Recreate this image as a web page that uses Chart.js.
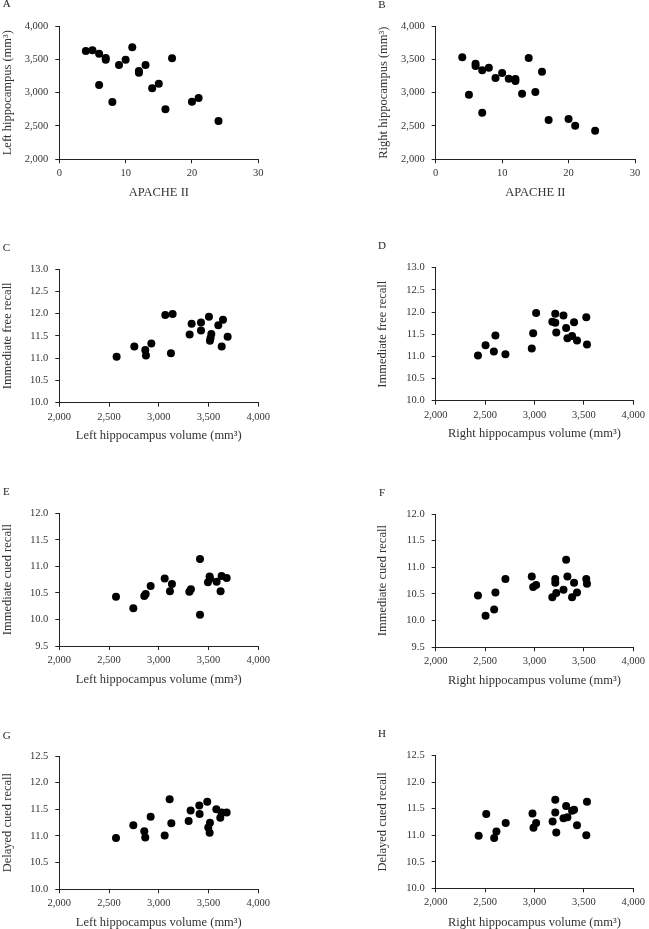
<!DOCTYPE html>
<html>
<head>
<meta charset="utf-8">
<script src="https://cdn.jsdelivr.net/npm/chart.js@4.4.1/dist/chart.umd.min.js"></script>
<style>
  body { margin: 0; background: #fff; width: 649px; height: 929px; position: relative; overflow: hidden; }
  canvas { position: absolute; }
  .lbl { position: absolute; font: 11px/11px "Liberation Serif", "Times New Roman", serif; color: #222; }
</style>
</head>
<body>
<script>
// panel A / B : APACHE II vs hippocampus volume
var apache = [4, 5, 6, 6, 7, 7, 8, 9, 10, 11, 12, 12, 13, 14, 15, 16, 17, 20, 21, 24];
var leftVolA = [3625, 3635, 3585, 3115, 3520, 3495, 2860, 3415, 3495, 3680, 3325, 3300, 3415, 3065, 3135, 2750, 3515, 2865, 2920, 2575];
var rightVolB = [3530, 2970, 3435, 3400, 3335, 2700, 3375, 3220, 3295, 3210, 3205, 3175, 2985, 3520, 3010, 3315, 2590, 2605, 2505, 2430];

// panel C / D : immediate free recall
var leftVolC = [2576, 2754, 2864, 2871, 2925, 3065, 3139, 3122, 3330, 3310, 3424, 3424, 3504, 3528, 3520, 3514, 3598, 3645, 3632, 3692];
var freeC = [11.03, 11.26, 11.18, 11.06, 11.33, 11.97, 11.99, 11.11, 11.77, 11.53, 11.80, 11.62, 11.93, 11.54, 11.45, 11.39, 11.74, 11.86, 11.26, 11.48];
var rightVolD = [2428, 2505, 2605, 2589, 2706, 2973, 2987, 3017, 3181, 3211, 3211, 3221, 3294, 3321, 3334, 3381, 3401, 3431, 3525, 3532];
var freeD = [11.02, 11.25, 11.47, 11.11, 11.05, 11.18, 11.52, 11.98, 11.78, 11.76, 11.96, 11.54, 11.92, 11.64, 11.41, 11.46, 11.77, 11.36, 11.88, 11.27];

// panel E / F : immediate cued recall
var leftVolE = [2570, 2744, 2854, 2868, 2918, 3059, 3112, 3132, 3307, 3323, 3414, 3414, 3494, 3511, 3514, 3581, 3621, 3631, 3682];
var cuedE = [10.43, 10.21, 10.44, 10.48, 10.63, 10.77, 10.53, 10.67, 10.52, 10.57, 11.14, 10.09, 10.70, 10.81, 10.77, 10.71, 10.53, 10.82, 10.78];
var rightVolF = [2428, 2505, 2592, 2605, 2706, 2973, 2987, 3017, 3181, 3211, 3211, 3221, 3294, 3321, 3334, 3381, 3401, 3431, 3525, 3532];
var cuedF = [10.47, 10.09, 10.21, 10.53, 10.78, 10.83, 10.63, 10.67, 10.44, 10.78, 10.71, 10.52, 10.58, 11.14, 10.83, 10.44, 10.71, 10.53, 10.78, 10.69];

// panel G / H : delayed cued recall
var leftVolG = [2570, 2744, 2854, 2864, 2918, 3059, 3109, 3126, 3300, 3320, 3407, 3410, 3487, 3497, 3514, 3511, 3578, 3618, 3631, 3682];
var delayG = [10.96, 11.20, 11.09, 10.97, 11.36, 11.01, 11.69, 11.24, 11.28, 11.48, 11.57, 11.41, 11.64, 11.16, 11.25, 11.06, 11.50, 11.34, 11.44, 11.44];
var rightVolH = [2435, 2512, 2592, 2615, 2709, 2980, 2990, 3017, 3184, 3211, 3211, 3221, 3294, 3321, 3334, 3381, 3401, 3431, 3532, 3525];
var delayH = [10.99, 11.40, 10.95, 11.07, 11.23, 11.41, 11.14, 11.23, 11.26, 11.67, 11.43, 11.05, 11.32, 11.55, 11.34, 11.46, 11.48, 11.19, 11.63, 11.00];

var serif = '"Liberation Serif", "Times New Roman", serif';
var fmtThousands = function (v) { return v.toLocaleString('en-US'); };
var fmtOne = function (v) { return v.toFixed(1); };

var panels = [
    { id: 'A', x: apache, y: leftVolA, xr: [0, 30, 10], yr: [2000, 4000, 500], xt: 'APACHE II', yt: 'Left hippocampus (mm³)',
      L: 0, T: 0, W: 325, H: 210, area: [59.3, 26, 258.3, 159.3], ytx: 7.3, xty: 192.7, lx: 2.7, ly: -1.6 },
    { id: 'B', x: apache, y: rightVolB, xr: [0, 30, 10], yr: [2000, 4000, 500], xt: 'APACHE II', yt: 'Right hippocampus (mm³)',
      L: 325, T: 0, W: 324, H: 210, area: [435.7, 26, 635, 159.3], ytx: 383.3, xty: 192.7, lx: 378.3, ly: -0.6 },
    { id: 'C', x: leftVolC, y: freeC, xr: [2000, 4000, 500], yr: [10, 13, 0.5], xt: 'Left hippocampus volume (mm³)', yt: 'Immediate free recall',
      L: 0, T: 230, W: 325, H: 230, area: [59.3, 269, 258.3, 402.7], ytx: 7.3, xty: 436, lx: 2.7, ly: 242.4 },
    { id: 'D', x: rightVolD, y: freeD, xr: [2000, 4000, 500], yr: [10, 13, 0.5], xt: 'Right hippocampus volume (mm³)', yt: 'Immediate free recall',
      L: 325, T: 230, W: 324, H: 230, area: [435.7, 267.7, 635, 400.7], ytx: 383, xty: 433.3, lx: 378, ly: 240.4 },
    { id: 'E', x: leftVolE, y: cuedE, xr: [2000, 4000, 500], yr: [9.5, 12, 0.5], xt: 'Left hippocampus volume (mm³)', yt: 'Immediate cued recall',
      L: 0, T: 460, W: 325, H: 230, area: [59.3, 513.3, 258.3, 646], ytx: 7.3, xty: 680, lx: 3, ly: 486.4 },
    { id: 'F', x: rightVolF, y: cuedF, xr: [2000, 4000, 500], yr: [9.5, 12, 0.5], xt: 'Right hippocampus volume (mm³)', yt: 'Immediate cued recall',
      L: 325, T: 460, W: 324, H: 230, area: [435.7, 514, 635, 647.3], ytx: 382.5, xty: 681, lx: 379, ly: 487.4 },
    { id: 'G', x: leftVolG, y: delayG, xr: [2000, 4000, 500], yr: [10, 12.5, 0.5], xt: 'Left hippocampus volume (mm³)', yt: 'Delayed cued recall',
      L: 0, T: 690, W: 325, H: 239, area: [59.3, 756, 258.3, 889.3], ytx: 7.3, xty: 922.3, lx: 2.7, ly: 729.9 },
    { id: 'H', x: rightVolH, y: delayH, xr: [2000, 4000, 500], yr: [10, 12.5, 0.5], xt: 'Right hippocampus volume (mm³)', yt: 'Delayed cued recall',
      L: 325, T: 690, W: 324, H: 239, area: [435.7, 755.7, 635, 888.3], ytx: 382.7, xty: 922.3, lx: 378, ly: 728.4 }
];

function axisStyle() {
    return {
        grid: { display: true, drawOnChartArea: false, drawTicks: true, tickLength: 4, color: '#222', lineWidth: 1 },
        border: { display: true, color: '#222', width: 1 }
    };
}

function draw_panel(p) {
    var cv = document.createElement('canvas');
    cv.width = p.W; cv.height = p.H;
    cv.style.left = p.L + 'px'; cv.style.top = p.T + 'px';
    document.body.appendChild(cv);

    var lbl = document.createElement('div');
    lbl.className = 'lbl';
    lbl.textContent = p.id;
    lbl.style.left = p.lx + 'px'; lbl.style.top = p.ly + 'px';
    document.body.appendChild(lbl);

    var titleSize = 12.5;
    var half = titleSize * 1.2 / 2;
    var padLeft = Math.max(0, p.ytx - p.L - half);
    var yW = p.area[0] - p.L - padLeft;
    var padTop = p.area[1] - p.T;
    var padRight = p.L + p.W - p.area[2];
    var xH = p.xty + half - p.area[3];
    var padBottom = p.T + p.H - (p.xty + half);

    var pts = p.x.map(function (v, i) { return { x: v, y: p.y[i] }; });
    var xs = axisStyle(), ys = axisStyle();

    var config = {
        type: 'scatter',
        data: { datasets: [{ data: pts, backgroundColor: '#000', borderWidth: 0, pointRadius: 4, pointHoverRadius: 4 }] },
        options: {
            responsive: false, animation: false, devicePixelRatio: 1,
            layout: { padding: { left: padLeft, top: padTop, right: padRight, bottom: padBottom } },
            plugins: { legend: { display: false }, tooltip: { enabled: false } },
            scales: {
                x: {
                    type: 'linear', min: p.xr[0], max: p.xr[1],
                    grid: xs.grid, border: xs.border,
                    ticks: { stepSize: p.xr[2], padding: 4, color: '#333', font: { family: serif, size: 10.5 },
                             callback: p.xr[1] > 100 ? fmtThousands : function (v) { return v; } },
                    title: { display: true, text: p.xt, color: '#333', padding: 0, font: { family: serif, size: titleSize } },
                    afterFit: function (s) { s.height = xH; }
                },
                y: {
                    type: 'linear', min: p.yr[0], max: p.yr[1],
                    grid: ys.grid, border: ys.border,
                    ticks: { stepSize: p.yr[2], padding: 7, color: '#333', font: { family: serif, size: 10.5 },
                             callback: p.yr[1] > 100 ? fmtThousands : fmtOne },
                    title: { display: true, text: p.yt, color: '#333', padding: 0, font: { family: serif, size: titleSize } },
                    afterFit: function (s) { s.width = yW; }
                }
            }
        }
    };
    return new Chart(cv.getContext('2d'), config);
}

panels.forEach(draw_panel);
</script>
</body>
</html>
